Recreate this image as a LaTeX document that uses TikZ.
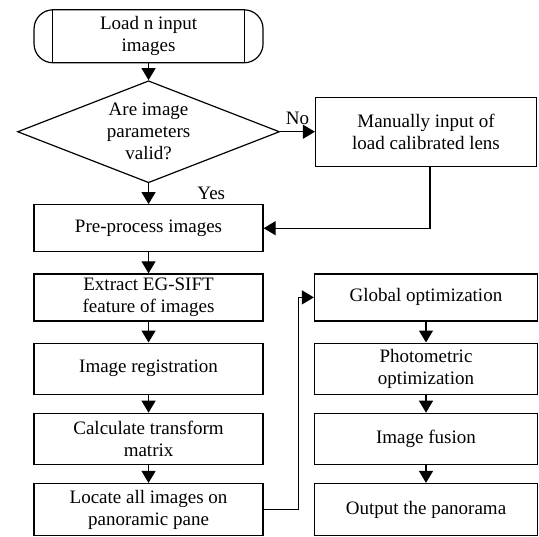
\documentclass[tikz,border=0pt]{standalone}
\usepackage{fontspec}
\setmainfont{Liberation Serif}
\usetikzlibrary{arrows.meta}
\usetikzlibrary{shapes.geometric}

\begin{document}
\begin{tikzpicture}[auto, font=\fontsize{19}{22}\selectfont]
    \tikzstyle{block} = [draw, rectangle, align=center, line width=1.2pt, minimum width=229pt, minimum height=51pt, inner sep=2pt];
    \tikzstyle{rblock} = [block, minimum width=223pt];
    \tikzstyle{terminal} = [block, rounded corners=19pt, minimum height=53pt];
    \tikzstyle{decision} = [draw, diamond, aspect=2.55, align=center, line width=1.2pt, minimum width=262pt, minimum height=102pt, inner sep=0pt];
    \tikzstyle{line} = [draw, line width=1.2pt, -{Triangle[length=12pt,width=14pt]}];
    \useasboundingbox (0,0) rectangle (539pt,-537pt);
    \matrix[matrix anchor=north west, inner sep=0pt, column sep=34pt, row sep=19pt] at (17pt,-9pt)
    {
        \node[terminal] (load) {Load n input\\images}; & \\[-2pt]
        \node[decision] (valid) {Are image\\parameters\\valid?}; &
            \node[rblock, minimum width=221pt, minimum height=69pt] (manual) {Manually input of\\load calibrated lens}; \\[2pt]
        \node[block, minimum height=47pt] (pre) {Pre-process images}; & \\[2pt]
        \node[block, minimum height=47pt] (extract) {Extract EG-SIFT\\feature of images}; &
            \node[rblock, minimum height=47pt] (global) {Global optimization}; \\[2pt]
        \node[block] (reg) {Image registration}; &
            \node[rblock] (photo) {Photometric\\optimization}; \\[-1pt]
        \node[block] (calc) {Calculate transform\\matrix}; &
            \node[rblock] (fusion) {Image fusion}; \\[-1pt]
        \node[block, minimum height=52pt] (locate) {Locate all images on\\panoramic pane}; &
            \node[rblock, minimum height=52pt] (output) {Output the panorama}; \\
    };
    % terminal side bars
    \draw[line width=1.2pt] ([xshift=19pt]load.north west) -- ([xshift=19pt]load.south west);
    \draw[line width=1.2pt] ([xshift=-19pt]load.north east) -- ([xshift=-19pt]load.south east);
    \tikzstyle{every path}=[line]
    \path (load) -- (valid);
    \path (valid) -- node[xshift=45pt] {Yes} (pre);
    \path (valid) -- node[yshift=3pt] {No} (manual);
    \path ([xshift=4pt]manual.south) |- (pre.east);
    \path (pre) -- (extract);
    \path (extract) -- (reg);
    \path (reg) -- (calc);
    \path (calc) -- (locate);
    \path (locate.east) -- ++(35pt,0) |- (global.west);
    \path (global) -- (photo);
    \path (photo) -- (fusion);
    \path (fusion) -- (output);
\end{tikzpicture}
\end{document}
